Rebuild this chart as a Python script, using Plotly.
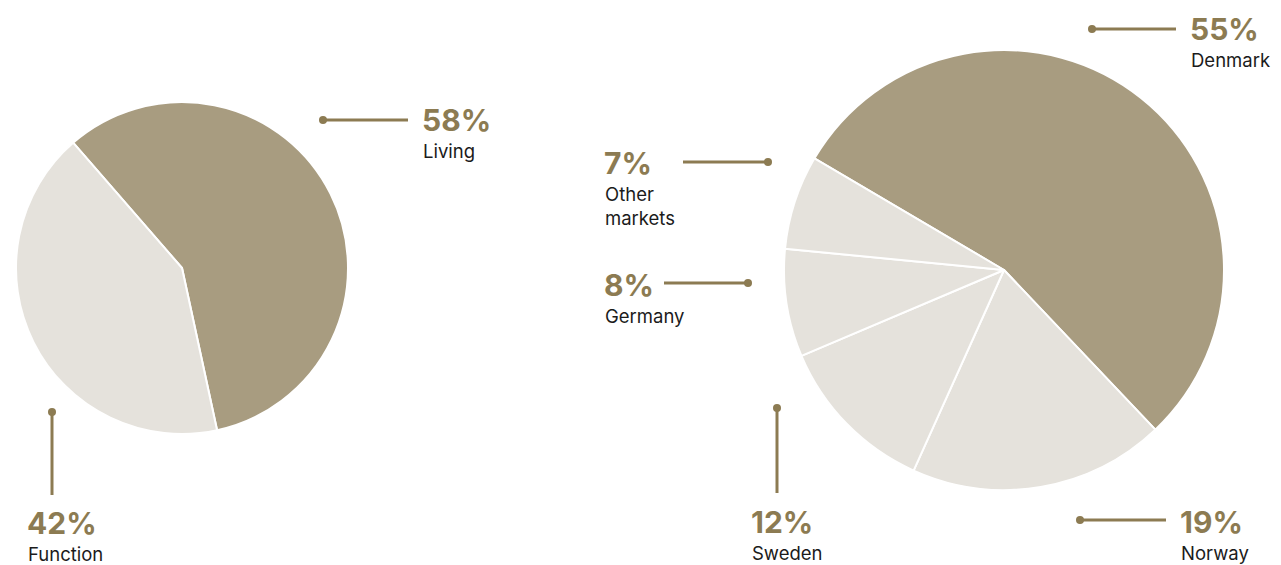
import plotly.graph_objects as go

# ---- data ----
left_labels = ["Living", "Function"]
left_values = [58, 42]

right_labels = ["Denmark", "Norway", "Sweden", "Germany", "Other<br>markets"]
right_values = [55, 19, 12, 8, 7]

# ---- style ----
W, H = 1281, 565
DARK = "#A89C80"
LIGHT = "#E5E2DC"
ACCENT = "#8C7B52"
TEXT = "#1b1b1b"
FONT = "Inter"


def px(x):
    return x / W


def py(y):
    return 1 - y / H


def pie_domain(cx, cy, r):
    return dict(x=[px(cx - r), px(cx + r)], y=[py(cy + r), py(cy - r)])


fig = go.Figure()
fig.add_trace(go.Pie(
    labels=left_labels, values=left_values, sort=False, direction="clockwise",
    rotation=-41, marker=dict(colors=[DARK, LIGHT], line=dict(color="white", width=2)),
    textinfo="none", hoverinfo="label+percent", showlegend=False,
    domain=pie_domain(182, 268, 166),
))
fig.add_trace(go.Pie(
    labels=right_labels, values=right_values, sort=False, direction="clockwise",
    rotation=-59.5, marker=dict(colors=[DARK, LIGHT, LIGHT, LIGHT, LIGHT], line=dict(color="white", width=2)),
    textinfo="none", hoverinfo="label+percent", showlegend=False,
    domain=pie_domain(1004, 270, 220),
))

# callout placement (pixels)
callouts = {
    "Living": dict(tx=420, ty=120, line=(323, 120, 408, 120), dot=(323, 120)),
    "Function": dict(tx=25, ty=523, line=(52, 412, 52, 495), dot=(52, 412)),
    "Denmark": dict(tx=1188, ty=29, line=(1092, 29, 1176, 29), dot=(1092, 29)),
    "Norway": dict(tx=1178, ty=522, line=(1080, 520, 1166, 520), dot=(1080, 520)),
    "Sweden": dict(tx=749, ty=522, line=(777, 408, 777, 493), dot=(777, 408)),
    "Germany": dict(tx=602, ty=285, line=(664, 283, 748, 283), dot=(748, 283)),
    "Other<br>markets": dict(tx=602, ty=163, line=(683, 162, 768, 162), dot=(768, 162)),
}

annotations = []
shapes = []
for labels, values in [(left_labels, left_values), (right_labels, right_values)]:
    for lab, val in zip(labels, values):
        c = callouts[lab]
        annotations.append(dict(
            x=px(c["tx"]), y=py(c["ty"]), xref="paper", yref="paper",
            xanchor="left", yanchor="middle", showarrow=False, align="left",
            text=f"<b>{val}%</b>", font=dict(family=FONT, size=30, color=ACCENT),
        ))
        annotations.append(dict(
            x=px(c["tx"] + 1), y=py(c["ty"] + 18), xref="paper", yref="paper",
            xanchor="left", yanchor="top", showarrow=False, align="left",
            text=lab, font=dict(family=FONT, size=18.5, color=TEXT),
        ))
        x0, y0, x1, y1 = c["line"]
        shapes.append(dict(type="line", xref="paper", yref="paper",
                           x0=px(x0), y0=py(y0), x1=px(x1), y1=py(y1),
                           line=dict(color=ACCENT, width=3)))
        dx, dy = c["dot"]
        shapes.append(dict(type="circle", xref="paper", yref="paper",
                           x0=px(dx - 4), x1=px(dx + 4), y0=py(dy + 4), y1=py(dy - 4),
                           fillcolor=ACCENT, line=dict(color=ACCENT, width=0)))

fig.update_layout(
    width=W, height=H, margin=dict(l=0, r=0, t=0, b=0),
    paper_bgcolor="white", plot_bgcolor="white",
    annotations=annotations, shapes=shapes,
    font=dict(family=FONT),
)

fig.write_html(
    "out.html",
    config={"displayModeBar": False},
    post_script="document.body.style.margin='0';document.body.style.overflow='hidden';",
)
